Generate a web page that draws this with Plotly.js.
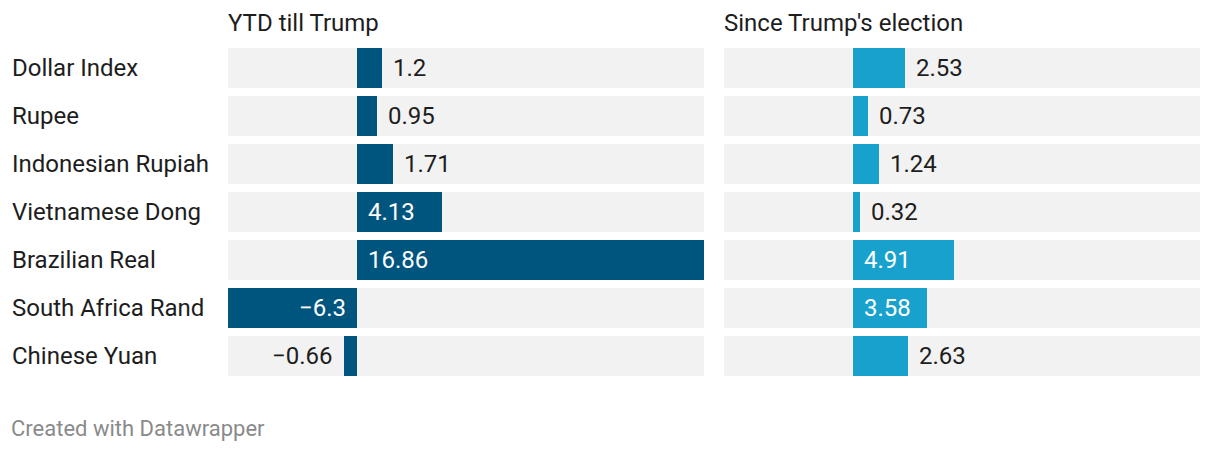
<!DOCTYPE html>
<html>
<head>
<meta charset="utf-8">
<script src="https://cdn.plot.ly/plotly-3.0.1.min.js"></script>
<style>
html,body{margin:0;padding:0;background:#fff;}
#chart{width:1220px;height:452px;}
</style>
</head>
<body>
<div id="chart"></div>
<script>
const categories = ["Dollar Index","Rupee","Indonesian Rupiah","Vietnamese Dong","Brazilian Real","South Africa Rand","Chinese Yuan"];
const ytdTillTrump = [1.2, 0.95, 1.71, 4.13, 16.86, -6.3, -0.66];
const sinceElection = [2.53, 0.73, 1.24, 0.32, 4.91, 3.58, 2.63];
const panelTitles = ["YTD till Trump", "Since Trump's election"];
const footerText = "Created with Datawrapper";

const W = 1220, H = 452;
const FONT = "Roboto, 'Noto Sans', sans-serif";
const colorLeft = "#00557f";
const colorRight = "#19a1cd";
const bgColor = "#f2f2f2";
const textColor = "#1d1d1d";

const xmin = Math.min(0, ...ytdTillTrump, ...sinceElection);
const xmax = Math.max(0, ...ytdTillTrump, ...sinceElection);
const panelPx = 476;
const pxPerUnit = panelPx / (xmax - xmin);

const dom1 = [228 / W, 704 / W];
const dom2 = [724 / W, 1200 / W];
const ydom = [1 - 380 / H, 1 - 44 / H];

function bgTrace(xa) {
  return {
    type: "bar", orientation: "h", y: categories,
    x: categories.map(() => xmax - xmin), base: categories.map(() => xmin),
    marker: { color: bgColor }, width: 0.834,
    xaxis: xa, yaxis: "y", hoverinfo: "skip", showlegend: false
  };
}
function dataTrace(vals, color, xa) {
  return {
    type: "bar", orientation: "h", y: categories, x: vals,
    marker: { color: color }, width: 0.834,
    xaxis: xa, yaxis: "y", hoverinfo: "x+y", showlegend: false
  };
}

const annotations = [];
function labelAnns(vals, xref) {
  vals.forEach((v, i) => {
    const txt = (v < 0 ? "\u2212" : "") + Math.abs(v).toString();
    const barPx = Math.abs(v) * pxPerUnit;
    const textW = txt.length * 12;
    const inside = barPx >= textW + 20;
    let x, anchor, shift, color;
    if (inside) {
      x = 0; anchor = v >= 0 ? "left" : "right"; shift = v >= 0 ? 9 : -9; color = "#ffffff";
    } else {
      x = v; anchor = v >= 0 ? "left" : "right"; shift = v >= 0 ? 9 : -9; color = textColor;
    }
    annotations.push({
      x: x, y: categories[i], xref: xref, yref: "y", text: txt, showarrow: false,
      xanchor: anchor, yanchor: "middle", xshift: shift,
      font: { family: FONT, size: 24, color: color }
    });
  });
}
labelAnns(ytdTillTrump, "x");
labelAnns(sinceElection, "x2");

categories.forEach((c) => {
  annotations.push({
    x: 10 / W, xref: "paper", y: c, yref: "y", text: c, showarrow: false,
    xanchor: "left", yanchor: "middle",
    font: { family: FONT, size: 24, color: textColor }
  });
});
annotations.push({
  x: 226 / W, y: 1 - 23 / H, xref: "paper", yref: "paper", text: panelTitles[0], showarrow: false,
  xanchor: "left", yanchor: "middle", font: { family: FONT, size: 24, color: textColor }
});
annotations.push({
  x: 722 / W, y: 1 - 23 / H, xref: "paper", yref: "paper", text: panelTitles[1], showarrow: false,
  xanchor: "left", yanchor: "middle", font: { family: FONT, size: 24, color: textColor }
});
annotations.push({
  x: 9 / W, y: 1 - 428 / H, xref: "paper", yref: "paper", text: footerText, showarrow: false,
  xanchor: "left", yanchor: "middle", font: { family: FONT, size: 22, color: "#8a8a8a" }
});

const layout = {
  width: W, height: H,
  margin: { l: 0, r: 0, t: 0, b: 0, pad: 0 },
  paper_bgcolor: "#ffffff", plot_bgcolor: "rgba(0,0,0,0)",
  barmode: "overlay", bargap: 0,
  font: { family: FONT, color: textColor },
  xaxis: { domain: dom1, range: [xmin, xmax], visible: false, fixedrange: true, zeroline: false, showgrid: false },
  xaxis2: { domain: dom2, range: [xmin, xmax], visible: false, fixedrange: true, zeroline: false, showgrid: false, anchor: "y" },
  yaxis: { domain: ydom, type: "category", categoryorder: "array", categoryarray: categories,
           range: [categories.length - 0.5, -0.5], visible: false, fixedrange: true },
  annotations: annotations,
  showlegend: false
};

Plotly.newPlot("chart", [
  bgTrace("x"), bgTrace("x2"),
  dataTrace(ytdTillTrump, colorLeft, "x"),
  dataTrace(sinceElection, colorRight, "x2")
], layout, { displayModeBar: false, staticPlot: true });
</script>
</body>
</html>
